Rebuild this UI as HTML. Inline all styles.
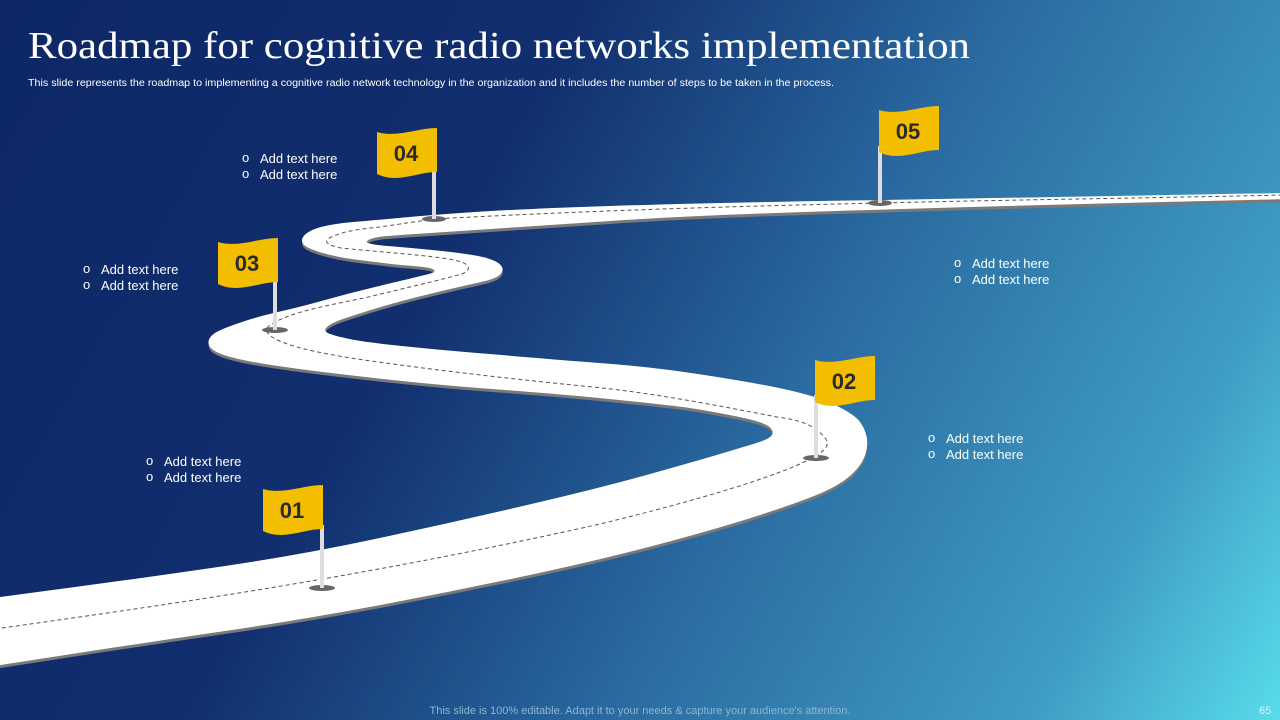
<!DOCTYPE html>
<html><head><meta charset="utf-8"><style>
html,body{margin:0;padding:0;width:1280px;height:720px;overflow:hidden}
svg{display:block}
</style></head><body>
<svg width="1280" height="720" viewBox="0 0 1280 720" xmlns="http://www.w3.org/2000/svg">
<defs>
<linearGradient id="bg" x1="0" y1="0" x2="1280" y2="720" gradientUnits="userSpaceOnUse">
<stop offset="0" stop-color="#0d2766"/>
<stop offset="0.35" stop-color="#112e6e"/>
<stop offset="0.6" stop-color="#2a6aa0"/>
<stop offset="0.85" stop-color="#3f9cc4"/>
<stop offset="1" stop-color="#58dcea"/>
</linearGradient>
<g id="flagshape"><path d="M0,0 C20,6 40,-4 60,-4 L60,40 C40,40 20,52 0,42 Z"/></g>
<polygon id="road" points="-80,608 0,597 150,577 300,555 450,523 600,488 700,460 750,445 766,440 774,434 770,426 754,420 720,413 685,407 620,400 547,393 450,386 364,377 290,368 240,360 214,352 207,343 212,334 227,327 260,316 300,307 350,293 400,281 425,275 436,272 432,268 415,266 400,265 375,262 343,258 318,252 302,245 302,236 315,228 340,223 367,221 430,215 520,209 700,203 1000,198 1285,193 1360,192 1360,198 1285,199 1000,206 700,215 520,227 430,233 400,235 375,237 364,242 375,245 400,247 433,250 460,253 485,257 500,263 504,271 495,279 467,285 400,301 345,318 330,324 323,331 335,336 364,342 430,349 501,355 560,360 639,366 700,374 777,387 820,398 846,410 862,422 869,443 862,465 840,485 800,502 720,528 600,560 450,592 300,620 150,642 0,665 -80,678"/>
</defs>
<rect width="1280" height="720" fill="url(#bg)"/>
<text x="28" y="58" font-family="Liberation Serif, serif" font-size="38" fill="#fff" textLength="942" lengthAdjust="spacingAndGlyphs">Roadmap for cognitive radio networks implementation</text>
<text x="28" y="86" font-family="Liberation Sans, sans-serif" font-size="10" fill="#fff" textLength="806" lengthAdjust="spacingAndGlyphs">This slide represents the roadmap to implementing a cognitive radio network technology in the organization and it includes the number of steps to be taken in the process.</text>

<use id="u1" href="#road" fill="#7a7a7a" transform="translate(0,3)"/>
<use id="u2" href="#road" fill="#fff"/>
<path d="M-5,629 C150,607 350,580 600,524 C700,500 780,475 808,460 C828,450 830,444 825,438 C815,425 800,420 777,417 C700,402 650,393 593,387 C500,378 420,368 364,360 C310,352 285,345 272,337 C264,331 265,328 272,324 C290,312 330,305 364,298 C410,287 440,280 462,274 C472,270 470,264 458,261 C440,256 390,253 341,248 C325,245 322,240 334,236 C345,231 360,229 380,227 C400,224 420,221 434,219 C600,210 750,206 880,203 C1000,200 1150,198 1285,195" fill="none" stroke="#555" stroke-width="1" stroke-dasharray="4,3"/>

<g font-family="Liberation Sans, sans-serif" font-weight="bold" font-size="22" fill="#2b2b2b" text-anchor="middle">
<ellipse cx="322" cy="588" rx="13" ry="3" fill="#666"/>
<rect x="320" y="525" width="4" height="63" fill="#ddd"/>
<use href="#flagshape" x="263" y="489" fill="#f3bd00"/>
<text x="292" y="518">01</text>
<ellipse cx="816" cy="458" rx="13" ry="3" fill="#666"/>
<rect x="814" y="395" width="4" height="63" fill="#ddd"/>
<use href="#flagshape" x="815" y="360" fill="#f3bd00"/>
<text x="844" y="389">02</text>
<ellipse cx="275" cy="330" rx="13" ry="3" fill="#666"/>
<rect x="273" y="278" width="4" height="52" fill="#ddd"/>
<use href="#flagshape" x="218" y="242" fill="#f3bd00"/>
<text x="247" y="271">03</text>
<ellipse cx="434" cy="219" rx="12" ry="3" fill="#666"/>
<rect x="432" y="168" width="4" height="51" fill="#ddd"/>
<use href="#flagshape" x="377" y="132" fill="#f3bd00"/>
<text x="406" y="161">04</text>
<ellipse cx="880" cy="203" rx="12" ry="3" fill="#666"/>
<rect x="878" y="146" width="4" height="57" fill="#ddd"/>
<use href="#flagshape" x="879" y="110" fill="#f3bd00"/>
<text x="908" y="139">05</text>
</g>

<g font-family="Liberation Sans, sans-serif" font-size="13" fill="#fff">
<text x="242" y="162">o</text><text x="260" y="163">Add text here</text>
<text x="242" y="178">o</text><text x="260" y="179">Add text here</text>
<text x="83" y="273">o</text><text x="101" y="274">Add text here</text>
<text x="83" y="289">o</text><text x="101" y="290">Add text here</text>
<text x="146" y="465">o</text><text x="164" y="466">Add text here</text>
<text x="146" y="481">o</text><text x="164" y="482">Add text here</text>
<text x="954" y="267">o</text><text x="972" y="268">Add text here</text>
<text x="954" y="283">o</text><text x="972" y="284">Add text here</text>
<text x="928" y="442">o</text><text x="946" y="443">Add text here</text>
<text x="928" y="458">o</text><text x="946" y="459">Add text here</text>
</g>
<text x="640" y="714" font-family="Liberation Sans, sans-serif" font-size="11" fill="#8fb6d0" text-anchor="middle">This slide is 100% editable. Adapt it to your needs &amp; capture your audience's attention.</text>
<text x="1259" y="714" font-family="Liberation Sans, sans-serif" font-size="11" fill="#d8f4fa">65</text>
</svg>
<script>
(function(){
try{
var poly=document.getElementById('road');
var nums=poly.getAttribute('points').trim().split(/[\s,]+/).map(Number);
var p=[];for(var i=0;i<nums.length;i+=2)p.push([nums[i],nums[i+1]]);
var n=p.length;function m(a,b){return ((a[0]+b[0])/2).toFixed(1)+','+((a[1]+b[1])/2).toFixed(1);}
var d='M'+m(p[n-1],p[0]);
for(var j=0;j<n;j++){var a=p[j],b=p[(j+1)%n];d+=' Q'+a[0]+','+a[1]+' '+m(a,b);}
d+='Z';
var path=document.createElementNS('http://www.w3.org/2000/svg','path');
path.setAttribute('id','road');path.setAttribute('d',d);
poly.parentNode.replaceChild(path,poly);
}catch(e){}
})();
</script>
</body></html>
